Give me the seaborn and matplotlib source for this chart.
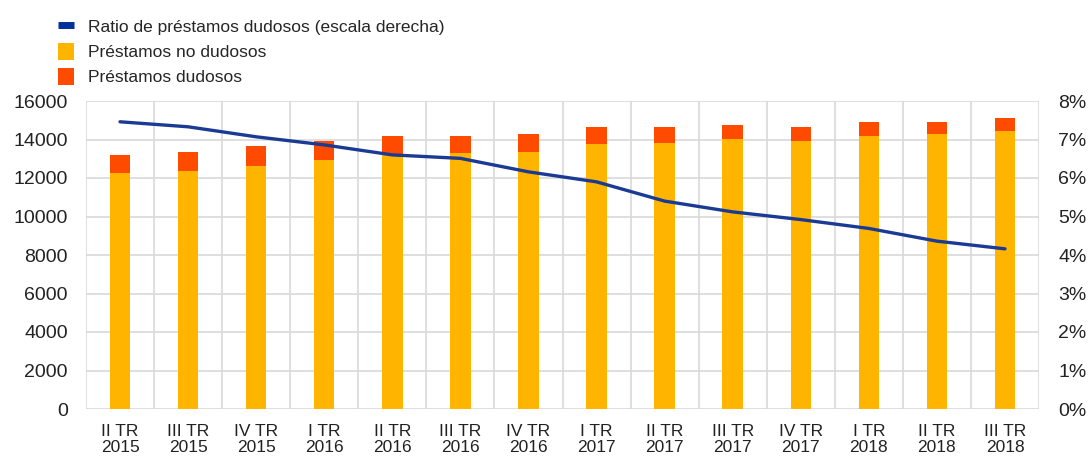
import numpy as np
import pandas as pd
import matplotlib
matplotlib.use("Agg")
import matplotlib.pyplot as plt
import seaborn as sns
from matplotlib.lines import Line2D
from matplotlib.patches import Patch

# ---- data ----
trimestres = ["II TR\n2015", "III TR\n2015", "IV TR\n2015", "I TR\n2016", "II TR\n2016",
              "III TR\n2016", "IV TR\n2016", "I TR\n2017", "II TR\n2017", "III TR\n2017",
              "IV TR\n2017", "I TR\n2018", "II TR\n2018", "III TR\n2018"]
no_dudosos = [12280, 12360, 12640, 12920, 13200, 13280, 13370, 13750, 13830, 14010,
              13920, 14200, 14290, 14460]
dudosos = [920, 1000, 1010, 1000, 1000, 910, 920, 900, 820, 740, 730, 730, 640, 640]
ratio_dudosos = [7.46, 7.33, 7.07, 6.86, 6.60, 6.51, 6.16, 5.90, 5.40, 5.12, 4.92,
                 4.69, 4.36, 4.16]
left_ticks = [0, 2000, 4000, 6000, 8000, 10000, 12000, 14000, 16000]
right_ticks = [0, 1, 2, 3, 4, 5, 6, 7, 8]

lab_ratio = "Ratio de préstamos dudosos (escala derecha)"
lab_no = "Préstamos no dudosos"
lab_du = "Préstamos dudosos"

c_yellow = "#FFB400"
c_orange = "#FF4B00"
c_blue = "#1B3A93"
c_grid = "#D9D9D9"

df = pd.DataFrame({"trim": trimestres, "no": no_dudosos, "du": dudosos,
                   "ratio": ratio_dudosos})
df["total"] = df["no"] + df["du"]
df["pos"] = np.arange(len(df))

sns.set_style("white")
plt.rcParams["font.family"] = ["Liberation Sans", "DejaVu Sans"]

fig = plt.figure(figsize=(10.89, 4.62), dpi=100)
ax = fig.add_axes([86 / 1089, 1 - 409 / 462, (1039 - 86) / 1089, (409 - 101) / 462])

sns.barplot(data=df, x="trim", y="total", color=c_orange, width=0.3,
            saturation=1, ax=ax, zorder=2, linewidth=0, edgecolor="none")
sns.barplot(data=df, x="trim", y="no", color=c_yellow, width=0.3,
            saturation=1, ax=ax, zorder=3, linewidth=0, edgecolor="none")

n = len(df)
ax.set_xlim(-0.5, n - 0.5)
ax.set_ylim(0, 16000)
ax.set_yticks(left_ticks)
ax.set_yticklabels([str(t) for t in left_ticks])
ax.set_xticks(np.arange(-0.5, n, 1.0), minor=True)
ax.grid(False)
ax.grid(True, which="minor", axis="x", color=c_grid, lw=1.2, zorder=0)
ax.grid(True, which="major", axis="y", color=c_grid, lw=1.2, zorder=0)
ax.set_axisbelow(True)
for s in ax.spines.values():
    s.set_visible(False)
ax.set_xlabel("")
ax.set_ylabel("")
ax.tick_params(axis="y", which="both", length=0, pad=13, labelsize=14, colors="#222222")
ax.tick_params(axis="x", which="both", length=0, pad=11, labelsize=12.5, colors="#222222")
for t in ax.get_xticklabels():
    t.set_linespacing(1.1)

ax2 = ax.twinx()
sns.lineplot(data=df, x="pos", y="ratio", color=c_blue, lw=2.4, ax=ax2, zorder=5)
ax2.set_ylim(0, 8)
ax2.set_yticks(right_ticks)
ax2.set_yticklabels([f"{t}%" for t in right_ticks])
ax2.set_xlim(-0.5, n - 0.5)
for s in ax2.spines.values():
    s.set_visible(False)
ax2.set_ylabel("")
ax2.set_xlabel("")
ax2.grid(False)
ax2.tick_params(axis="y", length=0, pad=14, labelsize=14, colors="#222222")

handles = [Line2D([0], [0], color="#003299", lw=5, solid_capstyle="butt"),
           Patch(facecolor=c_yellow, edgecolor="none"),
           Patch(facecolor=c_orange, edgecolor="none")]
fig.legend(handles, [lab_ratio, lab_no, lab_du], loc="upper left",
           bbox_to_anchor=(46 / 1089, 1 - 6 / 462), frameon=False,
           fontsize=12.5, handlelength=0.9, handleheight=1.1, handletextpad=0.8,
           labelspacing=0.45, borderpad=0.2)

fig.savefig("out.png", dpi=100)
